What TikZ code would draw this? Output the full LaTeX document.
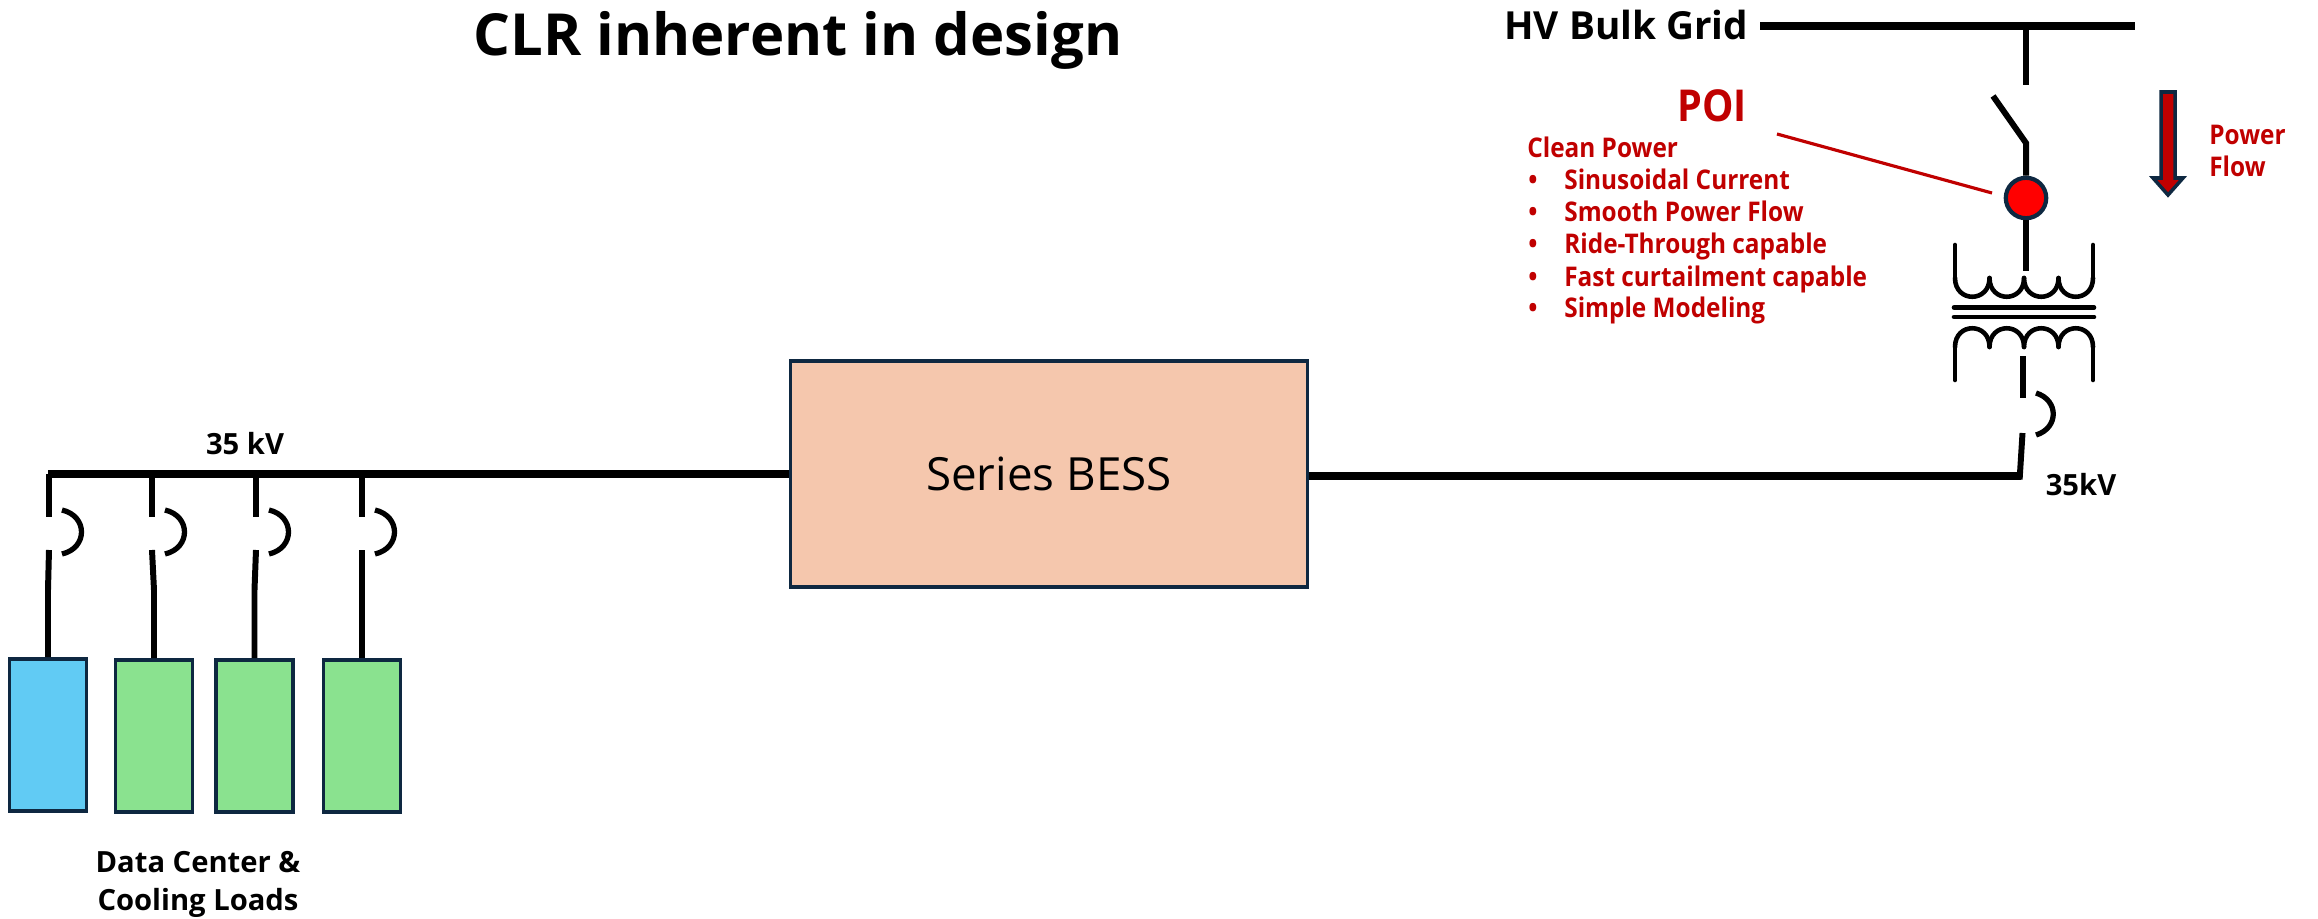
\documentclass[tikz,border=0pt]{standalone}
\usepackage{fontspec}
\setmainfont{Open Sans}
\newfontfamily\redfont[FakeStretch=0.9]{Open Sans}
\usepackage{tikz}
\definecolor{navyline}{HTML}{0E2841}
\definecolor{poired}{HTML}{C00000}
\definecolor{bessfill}{HTML}{F5C7AD}
\definecolor{bluefill}{HTML}{61CBF4}
\definecolor{greenfill}{HTML}{8AE28F}
\tikzset{
    every picture/.style={line width=0.75pt},
    busline/.style={line width=2.3pt},
    wire/.style={line width=1.7pt},
    breaker/.style={line width=1.5pt},
    coil/.style={line width=1.3pt, line cap=round},
    loadbox/.style={draw=navyline, line width=1pt, minimum width=22pt, minimum height=43.3pt, inner sep=0pt},
    blacktext/.style={font=\fontsize{8.3}{10}\selectfont\bfseries, inner sep=0pt, anchor=base},
    redtext/.style={text=poired, font=\redfont\fontsize{7.7}{10}\selectfont\bfseries, inner sep=0pt, anchor=base west}
}

\begin{document}
\begin{tikzpicture}[x=0.01cm,y=-0.01cm]
        \useasboundingbox (0,0) rectangle (2318,918);

        \node[blacktext,font=\fontsize{16.5}{20}\selectfont\bfseries] (title) at (798,55) {CLR inherent in design};
        \node[blacktext,anchor=base west,font=\fontsize{11}{13}\selectfont\bfseries] (hvlabel) at (1503,40) {HV Bulk Grid};
        \node[draw=navyline,line width=1.1pt,fill=bessfill,minimum width=147pt,minimum height=64.5pt,font=\fontsize{13}{16}\selectfont] (bess) at (1049,474) {Series BESS};

        \node[loadbox,fill=bluefill] (load1) at (48,735) {};
        \node[loadbox,fill=greenfill] (load2) at (154,736) {};
        \node[loadbox,fill=greenfill] (load3) at (254.5,736) {};
        \node[loadbox,fill=greenfill] (load4) at (362,736) {};

        \node[blacktext] (buslabel) at (245,454.5) {35 kV};
        \node[blacktext] (rightlabel) at (2081,495.5) {35kV};
        \node[blacktext] (loadlabel1) at (198,872) {Data Center \&};
        \node[blacktext] (loadlabel2) at (198,910) {Cooling Loads};

        \node[redtext,font=\redfont\fontsize{12.5}{14}\selectfont\bfseries] (poi) at (1676,121) {POI};
        \node[redtext] (clean) at (1526,157) {Clean Power};
        \foreach \i/\y/\txt in {1/189/Sinusoidal Current,2/221/Smooth Power Flow,3/253/Ride-Through capable,4/286/Fast curtailment capable,5/317/Simple Modeling}{
            \node[redtext] (bul\i) at (1527,\y) {•};
            \node[redtext] (item\i) at (1563,\y) {\txt};
        }
        \node[redtext] (flow1) at (2208,144) {Power};
        \node[redtext] (flow2) at (2208,176) {Flow};

        \coordinate (hvl) at (1760,26);
        \coordinate (hvr) at (2135,26);
        \coordinate (hvt) at (2026,26);
        \coordinate (swtop) at (2026,85);
        \coordinate (swfree) at (1993,96);
        \coordinate (swpiv) at (2026,143);
        \node[circle,draw=navyline,line width=1.2pt,fill=red,inner sep=0pt,minimum size=11.5pt] (dot) at (2026,198) {};
        \coordinate (xfin) at (2026,271);
        \coordinate (xfout) at (2022.5,356);
        \coordinate (brkt) at (2022.5,398);
        \coordinate (brkb) at (2022.5,433);
        \coordinate (corner) at (2021,476);
        \coordinate (poistart) at (1777,134);
        \coordinate (poiend) at (1992,193);
        \coordinate (bus1) at (48,474);

        \draw[busline] (hvl) -- (hvr);
        \draw[wire] (hvt) -- (swtop);
        \draw[wire] (swfree) -- (swpiv) -- (dot.north);
        \draw[wire] (dot.south) -- (xfin);
        \draw[poired,line width=0.9pt] (poistart) -- (poiend);

        \draw[coil] (1955,245) -- (1955,278);
        \draw[coil] (2093,245) -- (2093,278);
        \foreach \x in {1955,1989.5,2024,2058.5}{
            \draw[coil] (\x,278) .. controls (\x,303) and (\x+34.5,303) .. (\x+34.5,278);
            \draw[coil] (\x,347) .. controls (\x,322) and (\x+34.5,322) .. (\x+34.5,347);
        }
        \draw[coil] (1955,347) -- (1955,380);
        \draw[coil] (2093,347) -- (2093,380);
        \draw[coil] (1954,307.5) -- (2094,307.5);
        \draw[coil] (1954,317) -- (2094,317);

        \draw[wire] (xfout) -- (brkt);
        \draw[breaker] (2036,393) .. controls (2059,400) and (2059,428) .. (2036,435);
        \draw[busline] (bess.east |- corner) -- (corner);
        \draw[wire] (brkb) -- ([xshift=-0.4pt,yshift=-1pt]corner);

        \draw[busline] (bus1) -- (bess.west);
        \foreach \i/\x in {1/49,2/152,3/256,4/362}{
            \coordinate (fa\i) at (\x,474);
            \coordinate (fb\i) at (\x,517);
            \coordinate (fc\i) at (\x,550);
            \coordinate (fd\i) at (load\i.north |- 0,590);
            \draw[wire] (fa\i) -- (fb\i);
            \draw[breaker] (\x+13,510) .. controls (\x+39,516) and (\x+39,548) .. (\x+13,554);
            \draw[wire] (fc\i) -- (fd\i) -- (load\i.north);
        }

        \coordinate (arrowtip) at (2168,195);
        \draw[navyline,line width=1pt,fill=poired,line join=miter] (2161,92) -- (2175,92) -- (2175,178) -- (2183,178) -- (arrowtip) -- (2153,178) -- (2161,178) -- cycle;
\end{tikzpicture}
\end{document}
